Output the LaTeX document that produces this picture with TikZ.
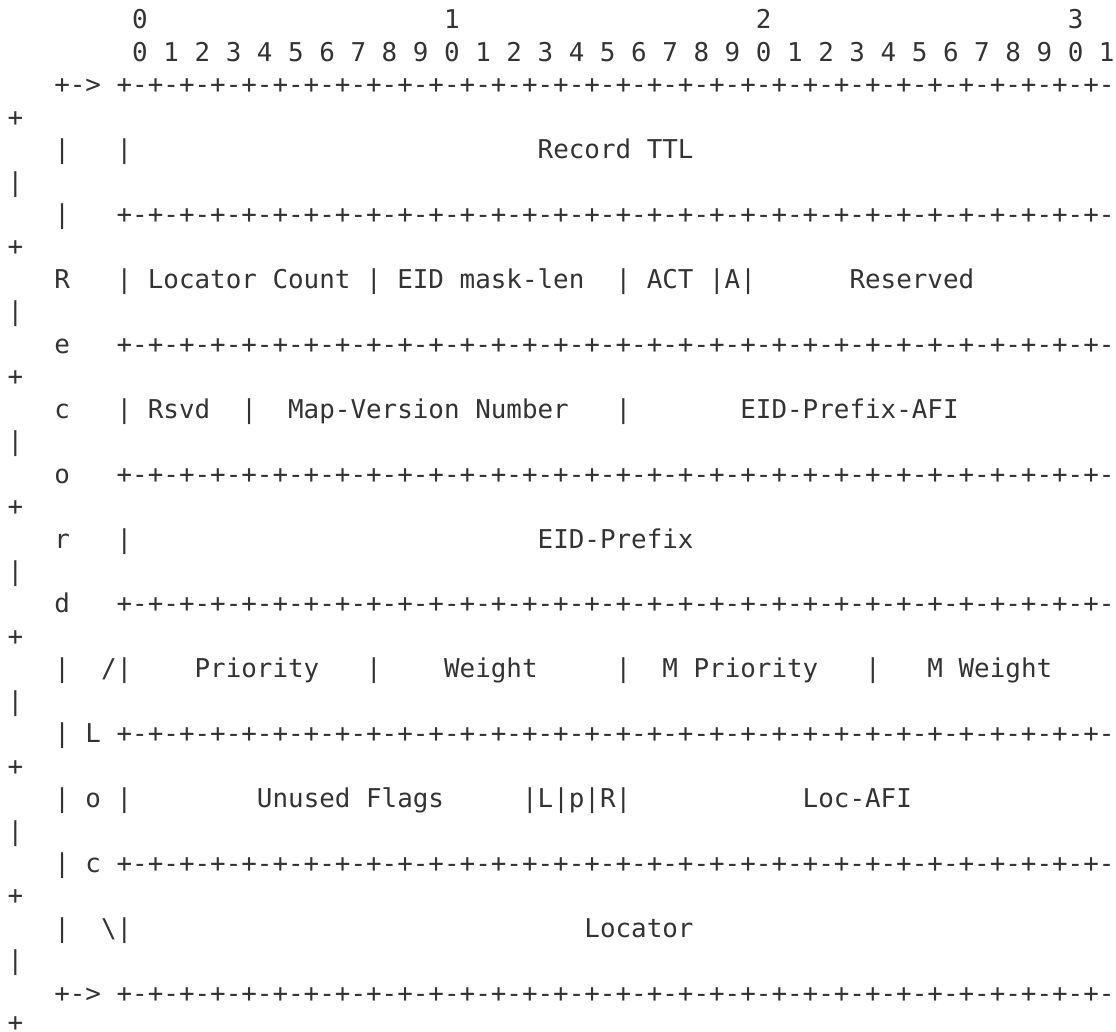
\documentclass[tikz,border=0pt]{standalone}
\usepackage{fontspec}
\newfontfamily\monofnt{DejaVu Sans Mono}
\definecolor{ink}{HTML}{333333}
\newlength\cw
\setlength\cw{15.593pt}
\newcommand\gap[1]{\hspace*{#1\cw}}
\def\rulepart{+-+-+-+-+-+-+-+-}
\newcommand\rulerline{\rulepart\rulepart\rulepart\rulepart}
\begin{document}
\begin{tikzpicture}[x=1pt,y=1pt,
  txtline/.style={anchor=base west, inner sep=0pt, outer sep=0pt, text=ink,
    font=\monofnt\fontsize{25.9}{30}\selectfont\frenchspacing}]
\useasboundingbox (0,0) rectangle (1116,-1032);
\node[txtline] (l1)  at (7.5,-28.8)   {\gap{8}0\gap{19}1\gap{19}2\gap{19}3};
\node[txtline] (l2)  at (7.5,-61.25)  {\gap{8}0 1 2 3 4 5 6 7 8 9 0 1 2 3 4 5 6 7 8 9 0 1 2 3 4 5 6 7 8 9 0 1};
\node[txtline] (l3)  at (7.5,-93.7)   {\gap{3}+->\gap{1}\rulerline};
\node[txtline] (l4)  at (7.5,-126.15) {+};
\node[txtline] (l5)  at (7.5,-158.6)  {\gap{3}|\gap{3}|\gap{26}Record TTL};
\node[txtline] (l6)  at (7.5,-191.05) {|};
\node[txtline] (l7)  at (7.5,-223.5)  {\gap{3}|\gap{3}\rulerline};
\node[txtline] (l8)  at (7.5,-255.95) {+};
\node[txtline] (l9)  at (7.5,-288.4)  {\gap{3}R\gap{3}| Locator Count | EID mask-len\gap{2}| ACT |A|\gap{6}Reserved};
\node[txtline] (l10) at (7.5,-320.85) {|};
\node[txtline] (l11) at (7.5,-353.3)  {\gap{3}e\gap{3}\rulerline};
\node[txtline] (l12) at (7.5,-385.75) {+};
\node[txtline] (l13) at (7.5,-418.2)  {\gap{3}c\gap{3}| Rsvd\gap{2}|\gap{2}Map-Version Number\gap{3}|\gap{7}EID-Prefix-AFI};
\node[txtline] (l14) at (7.5,-450.65) {|};
\node[txtline] (l15) at (7.5,-483.1)  {\gap{3}o\gap{3}\rulerline};
\node[txtline] (l16) at (7.5,-515.55) {+};
\node[txtline] (l17) at (7.5,-548.0)  {\gap{3}r\gap{3}|\gap{26}EID-Prefix};
\node[txtline] (l18) at (7.5,-580.45) {|};
\node[txtline] (l19) at (7.5,-612.9)  {\gap{3}d\gap{3}\rulerline};
\node[txtline] (l20) at (7.5,-645.35) {+};
\node[txtline] (l21) at (7.5,-677.8)  {\gap{3}|\gap{2}/|\gap{4}Priority\gap{3}|\gap{4}Weight\gap{5}|\gap{2}M Priority\gap{3}|\gap{3}M Weight};
\node[txtline] (l22) at (7.5,-710.25) {|};
\node[txtline] (l23) at (7.5,-742.7)  {\gap{3}|\gap{1}L\gap{1}\rulerline};
\node[txtline] (l24) at (7.5,-775.15) {+};
\node[txtline] (l25) at (7.5,-807.6)  {\gap{3}|\gap{1}o\gap{1}|\gap{8}Unused Flags\gap{5}|L|p|R|\gap{11}Loc-AFI};
\node[txtline] (l26) at (7.5,-840.05) {|};
\node[txtline] (l27) at (7.5,-872.5)  {\gap{3}|\gap{1}c\gap{1}\rulerline};
\node[txtline] (l28) at (7.5,-904.95) {+};
\node[txtline] (l29) at (7.5,-937.4)  {\gap{3}|\gap{2}\textbackslash|\gap{29}Locator};
\node[txtline] (l30) at (7.5,-969.85) {|};
\node[txtline] (l31) at (7.5,-1002.3) {\gap{3}+->\gap{1}\rulerline};
\node[txtline, text depth=0pt] (l32) at (7.5,-1031.2) {+};
\end{tikzpicture}
\end{document}
